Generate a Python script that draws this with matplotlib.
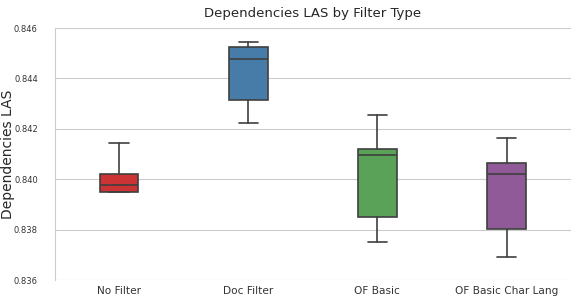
import matplotlib
matplotlib.use("Agg")
import matplotlib.pyplot as plt
import seaborn as sns

# values
filters = ["No Filter", "Doc Filter", "OF Basic", "OF Basic Char Lang"]
whisker_low = [0.83951, 0.84222, 0.83749, 0.83692]
q1 = [0.83951, 0.84313, 0.83851, 0.83804]
medians = [0.83976, 0.84478, 0.84098, 0.84019]
q3 = [0.84020, 0.84526, 0.84120, 0.84065]
whisker_high = [0.84143, 0.84544, 0.84254, 0.84165]

sns.set_style("whitegrid")
palette = [sns.desaturate(c, 0.75) for c in sns.color_palette("Set1", 4)]

fig, ax = plt.subplots(figsize=(5.74, 2.96), dpi=100)
fig.subplots_adjust(left=0.095, right=0.995, top=0.905, bottom=0.054)

stats = []
for name, lo, a, m, b, hi in zip(filters, whisker_low, q1, medians, q3, whisker_high):
    stats.append({"label": name, "whislo": lo, "q1": a, "med": m, "q3": b, "whishi": hi, "fliers": []})

edge = "#3f3f3f"
bp = ax.bxp(stats, positions=range(len(filters)), widths=0.3, capwidths=0.15,
            patch_artist=True, showfliers=False,
            boxprops=dict(edgecolor=edge, linewidth=1.2),
            medianprops=dict(color=edge, linewidth=1.2),
            whiskerprops=dict(color=edge, linewidth=1.2),
            capprops=dict(color=edge, linewidth=1.2))
for patch, col in zip(bp["boxes"], palette):
    patch.set_facecolor(col)

ax.set_xlim(-0.5, 3.5)
ax.set_ylim(0.836, 0.846)
ax.set_yticks([0.836, 0.838, 0.840, 0.842, 0.844, 0.846])
ax.yaxis.set_major_formatter(matplotlib.ticker.FormatStrFormatter("%.3f"))
ax.xaxis.grid(False)
ax.tick_params(axis="y", labelsize=6, length=0, pad=12, labelcolor="#333333")
ax.tick_params(axis="x", labelsize=7.6, length=0, pad=4, labelcolor="#333333")
ax.set_title("Dependencies LAS by Filter Type", fontsize=9.5, pad=8)
ax.set_ylabel("Dependencies LAS", fontsize=10)
ax.yaxis.set_label_coords(-0.077, 0.5)
sns.despine(ax=ax)
ax.spines["bottom"].set_visible(False)

fig.savefig("out.png", dpi=100)
